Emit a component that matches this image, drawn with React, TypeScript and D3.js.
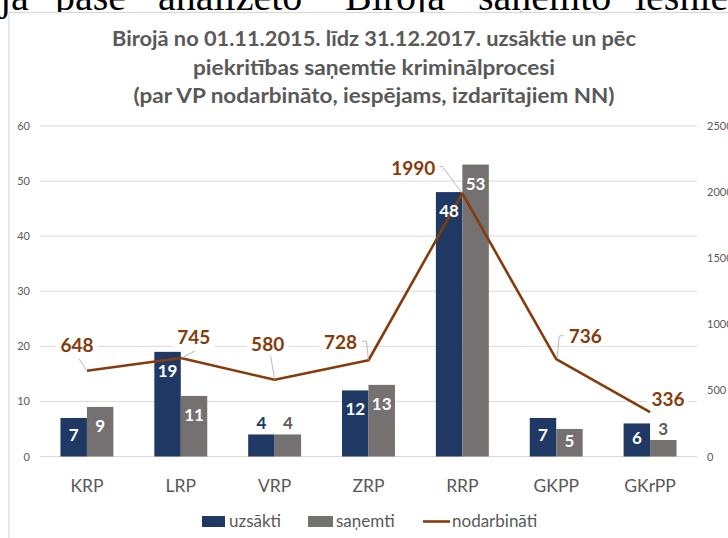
import React from "react";
import * as d3 from "d3";

const categories = ["KRP", "LRP", "VRP", "ZRP", "RRP", "GKPP", "GKrPP"];
const uzsakti = [7, 19, 4, 12, 48, 7, 6];
const sanemti = [9, 11, 4, 13, 53, 5, 3];
const nodarbinati = [648, 745, 580, 728, 1990, 736, 336];
const leftTicks = [0, 10, 20, 30, 40, 50, 60];
const rightTicks = [0, 500, 1000, 1500, 2000, 2500];
const seriesNames = ["uzsākti", "saņemti", "nodarbināti"];
const titleLines = [
  "Birojā no 01.11.2015.  līdz 31.12.2017.  uzsāktie un pēc",
  "piekritības saņemtie kriminālprocesi",
  "(par VP nodarbināto, iespējams, izdarītajiem NN)",
];
const pageWords = ["ja", "pase", "analizēto", "Birojā", "saņemto", "iesniegumu"];

// label placement for the line values (relative to the point)
const lineLabelPos = [
  { dx: -10, dy: -25, leader: [[-8, -12], [0, 0]] },
  { dx: 13, dy: -21, leader: [[14, -7], [1, 0]] },
  { dx: -7, dy: -35, leader: [[-4, -24], [0, 0]] },
  { dx: -28, dy: -18, leader: [[-7, -19], [-2, -19], [0, 0]] },
  { dx: -49, dy: -25, leader: [[-25, -27], [-20, -27], [0, 0]] },
  { dx: 29, dy: -23, leader: [[7, -24], [3, -23], [1, -1]] },
  { dx: 18, dy: -13, leader: [] },
];

const W = 728;
const H = 538;
const FONT = "Lato, 'Open Sans', sans-serif";
const C_BLUE = "#203864";
const C_GREY = "#767171";
const C_LINE = "#843C0C";
const C_TEXT = "#595959";
const C_GRID = "#d9d9d9";

const App = () => {
  const plot = { left: 40, right: 697, top: 126, bottom: 456.5 };

  const x0 = d3
    .scaleBand()
    .domain(categories)
    .range([plot.left, plot.right])
    .paddingInner(0.436)
    .paddingOuter(0.218);

  const x1 = d3
    .scaleBand()
    .domain(["u", "s"])
    .range([0, x0.bandwidth()]);

  const y = d3.scaleLinear().domain([0, 60]).range([plot.bottom, plot.top]);
  const y2 = d3.scaleLinear().domain([0, 2500]).range([plot.bottom, plot.top]);

  const cx = (c) => x0(c) + x0.bandwidth() / 2;

  const line = d3
    .line()
    .x((d, i) => cx(categories[i]))
    .y((d) => y2(d));

  const barLabel = (v, x, color) => {
    const h = y(0) - y(v);
    const inside = h > 25;
    const off = Math.min(19, h / 2 - 2);
    return (
      <text
        x={x + x1.bandwidth() / 2}
        y={inside ? y(v) + off + 6 : y(v) - 5}
        textAnchor="middle"
        fontFamily={FONT}
        fontWeight="bold"
        fontSize={17}
        fill={inside ? "#ffffff" : color}
      >
        {v}
      </text>
    );
  };

  const pageX = [0, 55, 158, 345, 478, 635];
  const titleW = [524, 362, 481];

  return (
    <div style={{ position: "absolute", left: 0, top: 0 }}>
      <svg width={W} height={H} style={{ display: "block" }}>
        <rect x={0} y={0} width={W} height={H} fill="#fff" />
        {/* cropped document text above the chart */}
        {pageWords.map((w, i) => (
          <text
            key={w}
            x={pageX[i]}
            y={10}
            fontFamily="'Liberation Serif', serif"
            fontSize={40}
            fill="#000"
          >
            {w}
          </text>
        ))}
        <rect x={9} y={12.5} width={W} height={H} fill="#fff" stroke={C_GRID} strokeWidth={1.2} />

        {/* title */}
        {titleLines.map((t, i) => (
          <text
            key={i}
            x={374}
            y={46 + i * 28.5}
            textAnchor="middle"
            textLength={titleW[i]}
            lengthAdjust="spacingAndGlyphs"
            fontFamily={FONT}
            fontWeight="bold"
            fontSize={20.5}
            fill={C_TEXT}
          >
            {t}
          </text>
        ))}

        {/* gridlines + left axis */}
        {leftTicks.map((t) => (
          <g key={t}>
            <line x1={plot.left} x2={plot.right} y1={y(t)} y2={y(t)} stroke={C_GRID} strokeWidth={1} />
            <text x={30} y={y(t) + 4} textAnchor="end" fontFamily={FONT} fontSize={11} fill={C_TEXT}>
              {t}
            </text>
          </g>
        ))}

        {/* right axis */}
        {rightTicks.map((t) => (
          <text key={t} x={707} y={y2(t) + 4} fontFamily={FONT} fontSize={11} fill={C_TEXT}>
            {t}
          </text>
        ))}

        {/* bars */}
        {categories.map((c, i) => (
          <g key={c}>
            <rect
              x={x0(c) + x1("u")}
              y={y(uzsakti[i])}
              width={x1.bandwidth()}
              height={y(0) - y(uzsakti[i])}
              fill={C_BLUE}
            />
            <rect
              x={x0(c) + x1("s")}
              y={y(sanemti[i])}
              width={x1.bandwidth()}
              height={y(0) - y(sanemti[i])}
              fill={C_GREY}
            />
            <text
              x={cx(c)}
              y={492}
              textAnchor="middle"
              fontFamily={FONT}
              fontSize={17.5}
              fill={C_TEXT}
            >
              {c}
            </text>
          </g>
        ))}

        {/* line */}
        <path d={line(nodarbinati)} fill="none" stroke={C_LINE} strokeWidth={2.6} strokeLinejoin="round" />

        {/* bar value labels on top of the line */}
        {categories.map((c, i) => (
          <g key={c}>
            {barLabel(uzsakti[i], x0(c) + x1("u"), C_BLUE)}
            {barLabel(sanemti[i], x0(c) + x1("s"), "#5f5b5b")}
          </g>
        ))}

        {/* line labels */}
        {nodarbinati.map((v, i) => {
          const px = cx(categories[i]);
          const py = y2(v);
          const p = lineLabelPos[i];
          const tw = String(v).length * 10.6;
          return (
            <g key={i}>
              {p.leader.length > 0 && (
                <polyline
                  points={p.leader.map((q) => `${px + q[0]},${py + q[1]}`).join(" ")}
                  fill="none"
                  stroke="#a6a6a6"
                  strokeWidth={0.8}
                />
              )}
              <rect
                x={px + p.dx - tw / 2 - 5}
                y={py + p.dy - 10}
                width={tw + 10}
                height={20}
                fill="#fff"
              />
              <text
                x={px + p.dx}
                y={py + p.dy + 6.5}
                textAnchor="middle"
                fontFamily={FONT}
                fontWeight="bold"
                fontSize={19}
                fill={C_LINE}
              >
                {v}
              </text>
            </g>
          );
        })}

        {/* legend */}
        <g fontFamily={FONT} fontSize={17} fill={C_TEXT}>
          <rect x={202} y={516} width={23} height={11} fill={C_BLUE} />
          <text x={229} y={527}>{seriesNames[0]}</text>
          <rect x={308} y={516} width={25} height={11} fill={C_GREY} />
          <text x={336} y={527}>{seriesNames[1]}</text>
          <line x1={423} x2={450} y1={521.5} y2={521.5} stroke={C_LINE} strokeWidth={2.6} />
          <text x={452} y={527}>{seriesNames[2]}</text>
        </g>
      </svg>
    </div>
  );
};

export default App;
